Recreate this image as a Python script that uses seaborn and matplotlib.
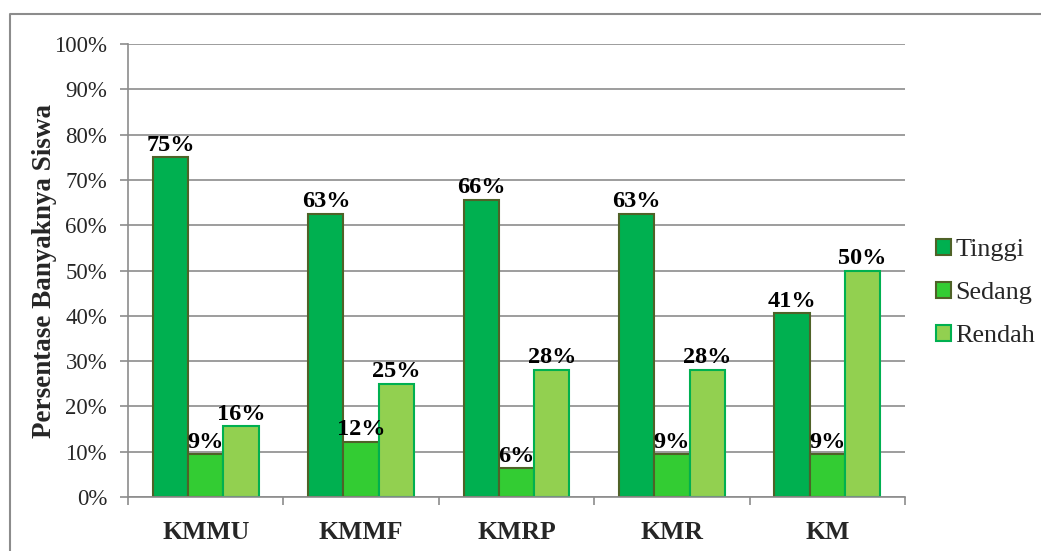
import matplotlib
matplotlib.use("Agg")
import matplotlib.pyplot as plt
import seaborn as sns
import pandas as pd
from matplotlib.lines import Line2D

categories = ["KMMU", "KMMF", "KMRP", "KMR", "KM"]
tinggi = [75.0, 62.5, 65.6, 62.5, 40.6]
sedang = [9.4, 12.2, 6.3, 9.4, 9.4]
rendah = [15.6, 25.0, 28.1, 28.1, 50.0]
series = ["Tinggi", "Sedang", "Rendah"]
y_ticks = [0, 10, 20, 30, 40, 50, 60, 70, 80, 90, 100]

fill_colors = ["#00B050", "#33CC33", "#92D050"]
edge_colors = ["#4F6228", "#4F6228", "#00B050"]

rows = []
for s, vals in zip(series, [tinggi, sedang, rendah]):
    for c, v in zip(categories, vals):
        rows.append({"cat": c, "val": v, "grp": s})
df = pd.DataFrame(rows)

sns.set_style("white")
plt.rcParams["font.family"] = ["Liberation Serif", "DejaVu Serif"]

fig = plt.figure(figsize=(10.41, 5.51), dpi=100)
ax = fig.add_axes([128 / 1041, 1 - 497 / 551, (905 - 128) / 1041, (497 - 44) / 551])

sns.barplot(data=df, x="cat", y="val", hue="grp", order=categories,
            hue_order=series, palette=fill_colors, width=0.68, ax=ax,
            saturation=1, linewidth=1.5, legend=True)

for cont, ec in zip(ax.containers, edge_colors):
    for p in cont:
        p.set_edgecolor(ec)
        p.set_linewidth(1.5)

for cont, vals in zip(ax.containers, [tinggi, sedang, rendah]):
    labels = [f"{int(v + 0.5)}%" for v in vals]
    ax.bar_label(cont, labels=labels, padding=1, fontsize=17.5,
                 fontweight="bold", color="black")

ax.set_ylim(0, 100)
ax.set_xlim(-0.5, len(categories) - 0.5)
ax.set_yticks(y_ticks)
ax.set_yticklabels([f"{t}%" for t in y_ticks], fontsize=16.5)
ax.yaxis.grid(True, color="#8C8C8C", linewidth=1.2)
ax.set_axisbelow(True)
ax.tick_params(axis="y", which="both", direction="out", length=6,
               color="#8C8C8C", width=1.2, left=True, pad=9)
ax.set_xticks(range(len(categories)))
ax.set_xticklabels(categories, fontsize=18.5, fontweight="bold")
ax.tick_params(axis="x", which="major", length=0, pad=17)
ax.set_xticks([i - 0.5 for i in range(len(categories) + 1)], minor=True)
ax.tick_params(axis="x", which="minor", direction="out", length=6,
               color="#8C8C8C", width=1.2, bottom=True)
for side in ["top", "right"]:
    ax.spines[side].set_visible(False)
for side in ["left", "bottom"]:
    ax.spines[side].set_color("#8C8C8C")
    ax.spines[side].set_linewidth(1.2)
ax.set_xlabel("")
ax.set_ylabel("Persentase Banyaknya Siswa", fontsize=19.5, fontweight="bold", labelpad=-2)

handles, labels = ax.get_legend_handles_labels()
leg = ax.legend(handles, labels, loc="center left", bbox_to_anchor=(1.027, 0.45),
                frameon=False, fontsize=18.8, handlelength=0.55, handleheight=0.55,
                labelspacing=0.8, handletextpad=0.18, borderaxespad=0)
for h, ec in zip(leg.legend_handles, edge_colors):
    h.set_edgecolor(ec)
    h.set_linewidth(1.5)

fig.lines.append(Line2D([10 / 1041, 10 / 1041, 1.0], [0.0, 1 - 14 / 551, 1 - 14 / 551],
                        transform=fig.transFigure, color="#8C8C8C", linewidth=1.5))

fig.savefig("out.png", dpi=100)
